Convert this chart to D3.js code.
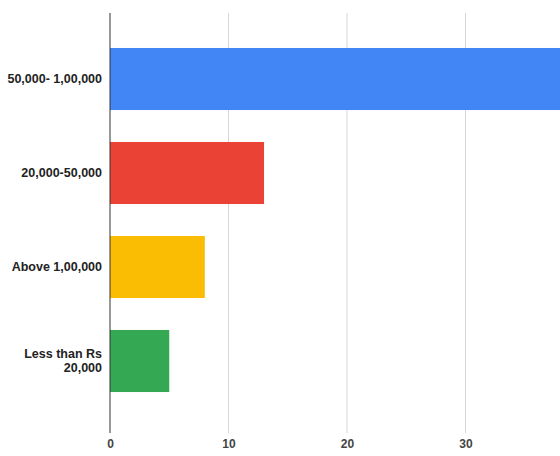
<!DOCTYPE html>
<html>
<head>
<meta charset="utf-8">
<script src="https://cdn.jsdelivr.net/npm/d3@7"></script>
<style>
  html, body { margin: 0; padding: 0; background: #fff; }
  svg { display: block; }
</style>
</head>
<body>
<div id="chart"></div>
<script>
const categories = ["50,000- 1,00,000", "20,000-50,000", "Above 1,00,000", "Less than Rs 20,000"];
const labelLines = [["50,000- 1,00,000"], ["20,000-50,000"], ["Above 1,00,000"], ["Less than Rs", "20,000"]];
const values = [38, 13, 8, 5];
const colors = ["#4285F4", "#EA4335", "#FBBC04", "#34A853"];
const tickValues = [0, 10, 20, 30];

const W = 560, H = 456;
const svg = d3.select("#chart").append("svg").attr("width", W).attr("height", H);

const x = d3.scaleLinear().domain([0, 40]).range([110, 584]);
const y = d3.scaleBand().domain(categories).range([32, 408]).paddingInner(0.34).paddingOuter(0.17);

// gridlines
svg.append("g").selectAll("line").data(tickValues.filter(d => d !== 0)).join("line")
  .attr("x1", d => x(d)).attr("x2", d => x(d))
  .attr("y1", 13).attr("y2", 433)
  .attr("stroke", "#d6d6d6").attr("stroke-width", 1);

// bars
svg.append("g").selectAll("rect").data(categories).join("rect")
  .attr("x", x(0))
  .attr("y", d => y(d))
  .attr("width", (d, i) => x(values[i]) - x(0))
  .attr("height", y.bandwidth())
  .attr("fill", (d, i) => colors[i]);

// zero baseline
svg.append("line")
  .attr("x1", x(0)).attr("x2", x(0))
  .attr("y1", 13).attr("y2", 433)
  .attr("stroke", "#333").attr("stroke-width", 1);

// x axis tick labels
const xAxis = d3.axisBottom(x).tickValues(tickValues).tickSize(0).tickPadding(0).tickFormat(d3.format("d"));
const gx = svg.append("g").attr("transform", "translate(0,439)").call(xAxis);
gx.select(".domain").remove();
gx.selectAll("text")
  .attr("font-family", "Liberation Sans, Arial, sans-serif")
  .attr("font-size", 12).attr("font-weight", "bold").attr("fill", "#444");

// y axis labels
const yAxis = d3.axisLeft(y).tickSize(0).tickPadding(0).tickFormat("");
const gy = svg.append("g").attr("transform", "translate(102,0)").call(yAxis);
gy.select(".domain").remove();
gy.selectAll(".tick").each(function(d, i) {
  const lines = labelLines[i];
  const t = d3.select(this).select("text")
    .attr("font-family", "Liberation Sans, Arial, sans-serif")
    .attr("font-size", 12.5).attr("font-weight", "bold").attr("fill", "#222")
    .attr("text-anchor", "end").attr("x", 0).attr("dy", null);
  const lh = 14;
  const y0 = -(lines.length - 1) * lh / 2 + 4;
  lines.forEach((s, j) => {
    t.append("tspan").attr("x", 0).attr("y", y0 + j * lh).text(s);
  });
});
</script>
</body>
</html>
